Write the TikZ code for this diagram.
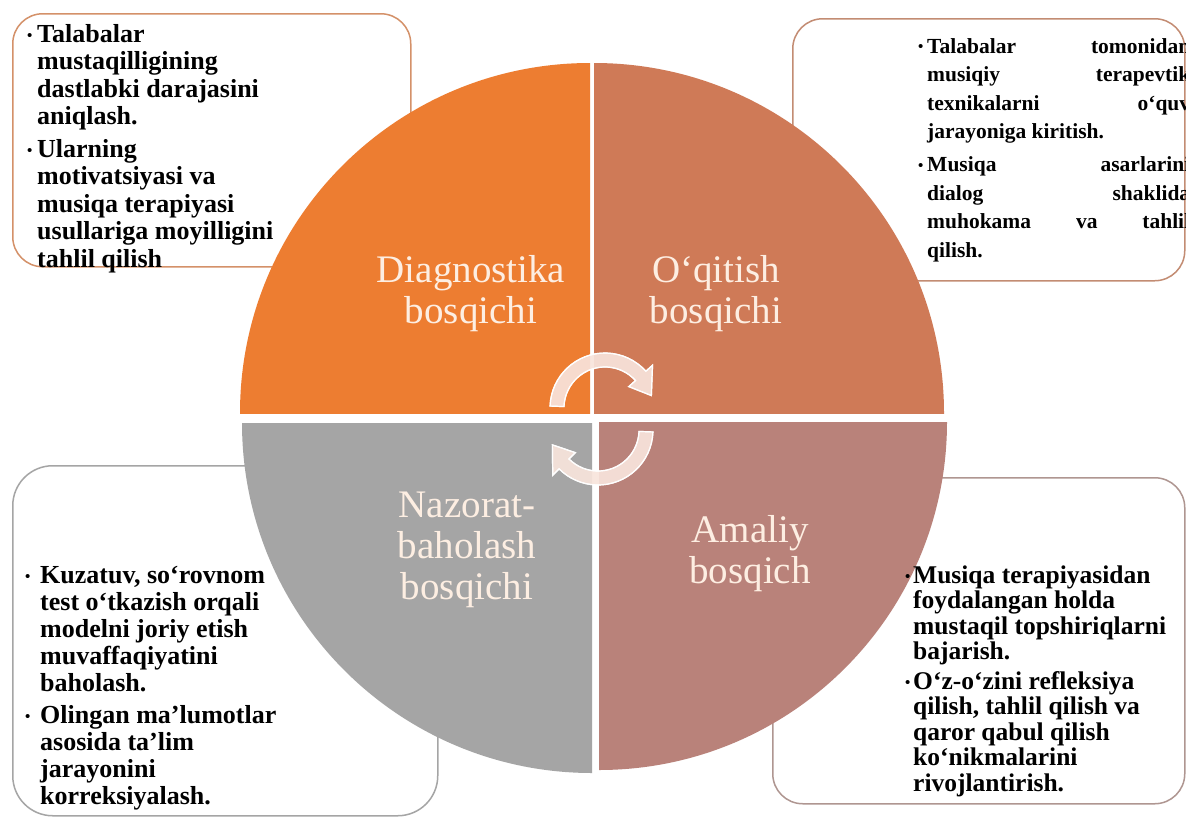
\documentclass[tikz,border=0pt]{standalone}
\usepackage{fontspec}
\setmainfont{Liberation Serif}
\definecolor{qone}{RGB}{237,125,49}
\definecolor{qtwo}{RGB}{207,122,87}
\definecolor{qthree}{RGB}{165,165,165}
\definecolor{qfour}{RGB}{185,130,122}
\definecolor{labelcol}{RGB}{253,238,226}
\definecolor{arrowcol}{RGB}{248,228,220}
\definecolor{bTL}{RGB}{212,145,105}
\definecolor{bTR}{RGB}{195,140,115}
\definecolor{bBL}{RGB}{165,165,165}
\definecolor{bBR}{RGB}{175,150,145}
\newcommand{\bulmark}[1]{\makebox[#1pt][l]{\raisebox{1.5pt}{\fontsize{15}{15}\selectfont •}}}
\newcommand{\indt}[1]{\hspace*{#1pt}}
\begin{document}
\begin{tikzpicture}[x=1pt,y=-1pt,
  infobox/.style={draw, line width=1.5pt, fill=white, rounded corners=30pt, anchor=north west, inner sep=0pt},
  boxtext/.style={inner sep=0pt, anchor=base west, text=black},
  qlabel/.style={text=labelcol, align=center, font=\fontsize{39}{41}\selectfont, inner sep=0pt},
  arrowsty/.style={fill=arrowcol, draw=white, line width=1.2pt, opacity=0.92}]
\useasboundingbox (0,0) rectangle (1186,817);
\fill[white] (0,0) rectangle (1186,817);
% text boxes
\node[infobox, draw=bTL, minimum width=398pt, minimum height=253pt] (boxTL) at (12,13) {};
\node[infobox, draw=bTR, minimum width=392pt, minimum height=262pt] (boxTR) at (792,18) {};
\node[infobox, draw=bBL, minimum width=425pt, minimum height=350pt, rounded corners=40pt] (boxBL) at (12,465) {};
\node[infobox, draw=bBR, minimum width=412pt, minimum height=326pt] (boxBR) at (772,477) {};
% quadrants
\begin{scope}\clip (240,63) rectangle (590,413); \fill[qone] (590,413) circle[radius=350]; \end{scope}
\begin{scope}\clip (594,63) rectangle (944,413); \fill[qtwo] (594,413) circle[radius=350]; \end{scope}
\begin{scope}\clip (242,423) rectangle (592,773); \fill[qthree] (592,423) circle[radius=350]; \end{scope}
\begin{scope}\clip (599,422) rectangle (947,770); \fill[qfour] (599,422) circle[radius=348]; \end{scope}
% circular arrows
\begin{scope}[shift={(605,408)}]
\fill[arrowsty] (182:55) arc[start angle=182, end angle=318, radius=55] -- (318:64) -- (345:48) -- (318:32) -- (318:41) arc[start angle=318, end angle=182, radius=41] -- cycle;
\draw[arrowsty, fill=none] (182:55) arc[start angle=182, end angle=318, radius=55] -- (318:64) -- (345:48) -- (318:32) -- (318:41) arc[start angle=318, end angle=182, radius=41] -- cycle;
\end{scope}
\begin{scope}[shift={(598,430)}]
\fill[arrowsty] (2:55) arc[start angle=2, end angle=135, radius=55] -- (135:64) -- (162:48) -- (135:32) -- (135:41) arc[start angle=135, end angle=2, radius=41] -- cycle;
\draw[arrowsty, fill=none] (2:55) arc[start angle=2, end angle=135, radius=55] -- (135:64) -- (162:48) -- (135:32) -- (135:41) arc[start angle=135, end angle=2, radius=41] -- cycle;
\end{scope}
% quadrant labels
\node[qlabel] (labD) at (471,294) {Diagnostika\\bosqichi};
\node[qlabel] (labO) at (716,294) {O‘qitish\\bosqichi};
\node[qlabel] (labN) at (467,550) {Nazorat-\\baholash\\bosqichi};
\node[qlabel] (labA) at (750,554) {Amaliy\\bosqich};
% box texts
\node[boxtext, font=\fontsize{26}{27.5}\selectfont\bfseries] (txtTL) at (27,42) {\begin{tabular}[t]{@{}l@{}}
\bulmark{10}Talabalar\\
\indt{10}mustaqilligining\\
\indt{10}dastlabki darajasini\\
\indt{10}aniqlash.\\[5pt]
\bulmark{10}Ularning\\
\indt{10}motivatsiyasi va\\
\indt{10}musiqa terapiyasi\\
\indt{10}usullariga moyilligini\\
\indt{10}tahlil qilish
\end{tabular}};
\node[boxtext, font=\fontsize{21.5}{28.5}\selectfont\bfseries] (txtTR) at (918,53) {\begin{tabular}[t]{@{}l@{}}
\bulmark{9}\makebox[263pt][s]{Talabalar tomonidan}\\
\indt{9}\makebox[263pt][s]{musiqiy terapevtik}\\
\indt{9}\makebox[263pt][s]{texnikalarni o‘quv}\\
\indt{9}jarayoniga kiritish.\\[4.5pt]
\bulmark{9}\makebox[263pt][s]{Musiqa asarlarini}\\
\indt{9}\makebox[263pt][s]{dialog shaklida}\\
\indt{9}\makebox[263pt][s]{muhokama va tahlil}\\
\indt{9}qilish.
\end{tabular}};
\node[boxtext, font=\fontsize{26}{27.2}\selectfont\bfseries] (txtBL) at (25,583) {\begin{tabular}[t]{@{}l@{}}
\bulmark{15}Kuzatuv, so‘rovnom\\
\indt{15}test o‘tkazish orqali\\
\indt{15}modelni joriy etish\\
\indt{15}muvaffaqiyatini\\
\indt{15}baholash.\\[4pt]
\bulmark{15}Olingan ma’lumotlar\\
\indt{15}asosida ta’lim\\
\indt{15}jarayonini\\
\indt{15}korreksiyalash.
\end{tabular}};
\node[boxtext, font=\fontsize{25.5}{25.5}\selectfont\bfseries] (txtBR) at (905,583) {\begin{tabular}[t]{@{}l@{}}
\bulmark{8}Musiqa terapiyasidan\\
\indt{8}foydalangan holda\\
\indt{8}mustaqil topshiriqlarni\\
\indt{8}bajarish.\\[4pt]
\bulmark{8}O‘z-o‘zini refleksiya\\
\indt{8}qilish, tahlil qilish va\\
\indt{8}qaror qabul qilish\\
\indt{8}ko‘nikmalarini\\
\indt{8}rivojlantirish.
\end{tabular}};
\end{tikzpicture}
\end{document}
